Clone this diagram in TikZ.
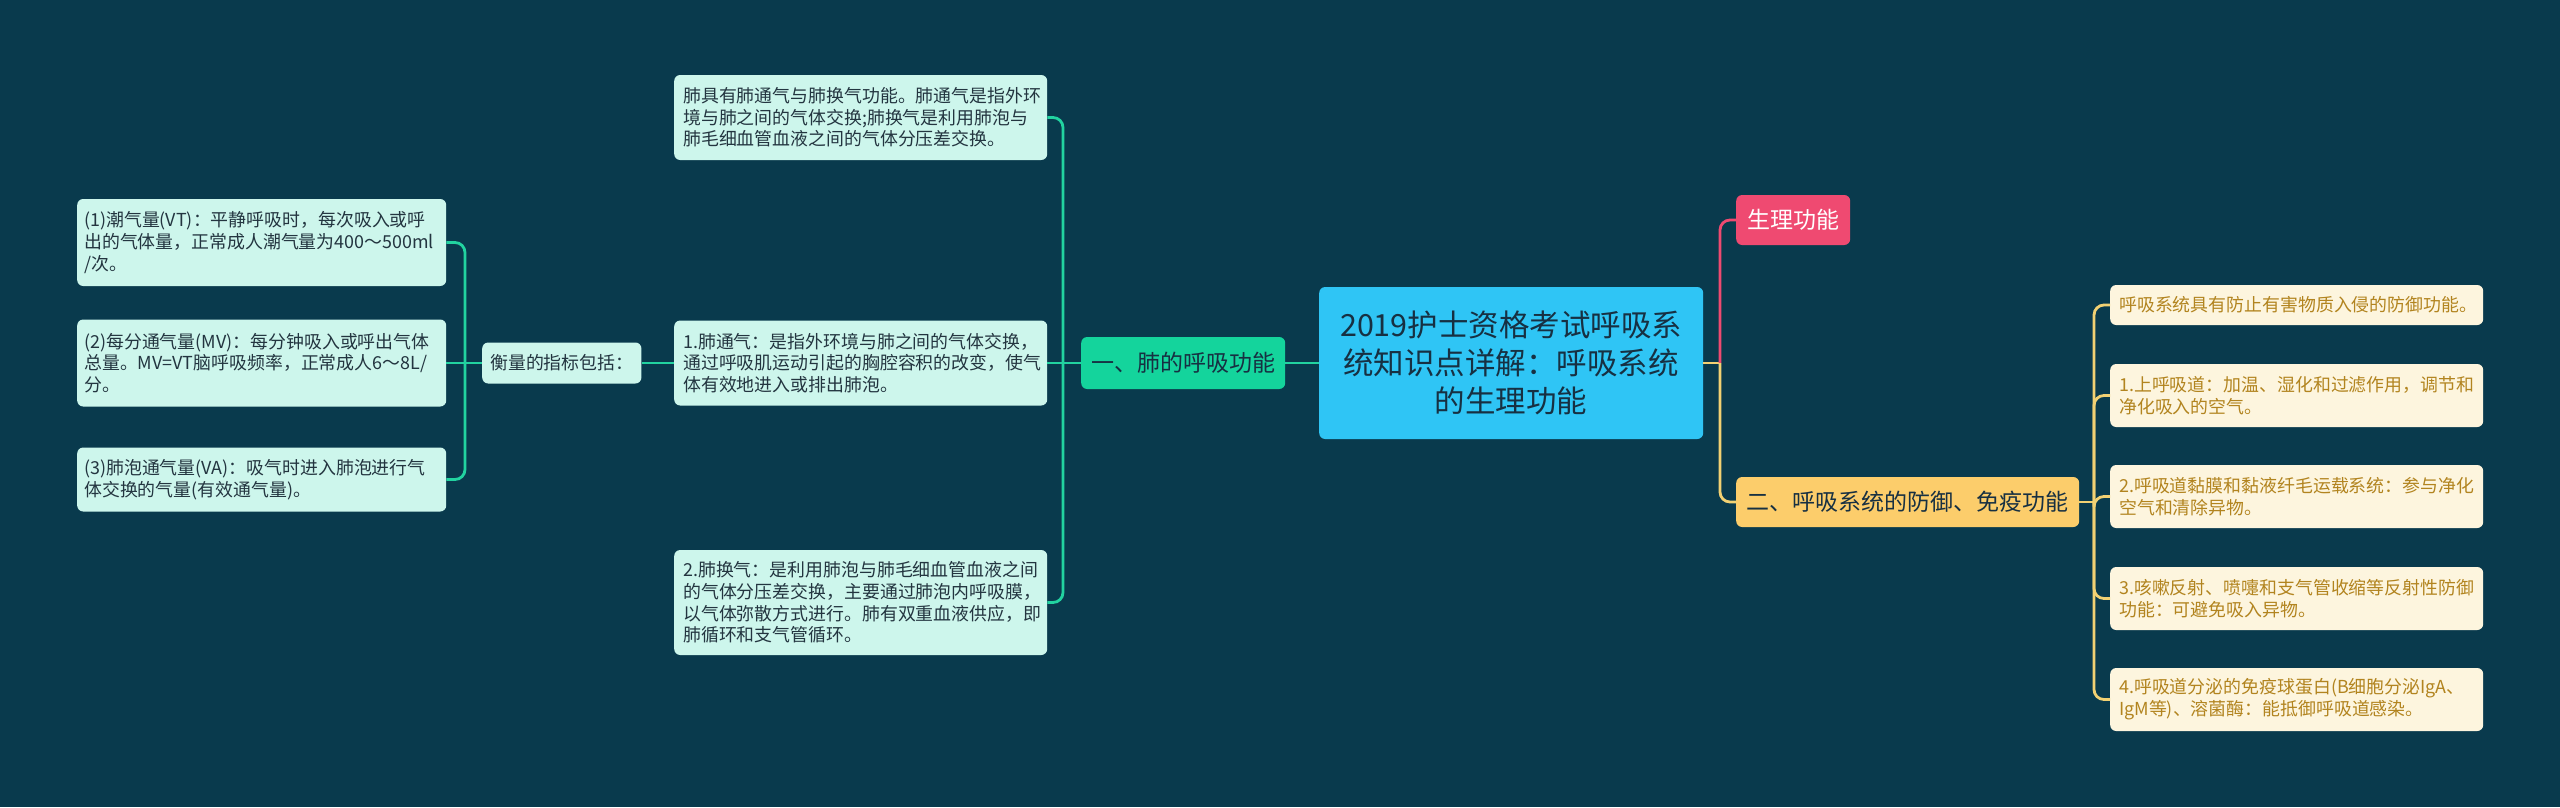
\documentclass[tikz,border=0pt]{standalone}
\usepackage{fontspec}
\setmainfont{Noto Sans CJK SC}
\definecolor{bg}{HTML}{093A4D}
\definecolor{gline}{HTML}{22D3A0}
\definecolor{gfill}{HTML}{14D49C}
\definecolor{mint}{HTML}{CDF6EC}
\definecolor{minttext}{HTML}{233540}
\definecolor{cfill}{HTML}{2FC5F5}
\definecolor{ctext}{HTML}{173042}
\definecolor{pinkc}{HTML}{EF4A71}
\definecolor{yfill}{HTML}{FCCD6B}
\definecolor{yline}{HTML}{F2D173}
\definecolor{cream}{HTML}{FDF5DE}
\definecolor{gold}{HTML}{B2841F}
\begin{document}
\begin{tikzpicture}[x=1pt,y=-1pt,
  box/.style={rounded corners=6pt, inner xsep=9pt, inner ysep=0pt, anchor=west, align=left},
  small/.style={font=\fontsize{17.9}{21.7}\selectfont},
  mintbox/.style={box, small, fill=mint, text=minttext},
  creambox/.style={box, small, fill=cream, text=gold, text width=355pt},
  lvl/.style={rounded corners=6pt, inner sep=0pt, anchor=west, align=center, font=\fontsize{23}{28}\selectfont, minimum height=50pt},
  conn/.style={line width=2.8pt, rounded corners=10pt},
  gl/.style={conn, draw=gline},
  pl/.style={conn, draw=pinkc},
  yl/.style={conn, draw=yline}]
\fill[bg] (0,0) rectangle (2560,807);
\useasboundingbox (0,0) rectangle (2560,807);

% leftmost
\node[mintbox, text width=355pt, inner xsep=7pt, minimum height=87pt] (a1) at (77,242.5)
  {(1)潮气量(VT)：平静呼吸时，每次吸入或呼\\出的气体量，正常成人潮气量为400～500ml\\/次。};
\node[mintbox, text width=355pt, inner xsep=7pt, minimum height=87pt] (a2) at (77,363)
  {(2)每分通气量(MV)：每分钟吸入或呼出气体\\总量。MV=VT脑呼吸频率，正常成人6～8L/\\分。};
\node[mintbox, text width=355pt, inner xsep=7pt, minimum height=64pt] (a3) at (77,479.5)
  {(3)肺泡通气量(VA)：吸气时进入肺泡进行气\\体交换的气量(有效通气量)。};
\node[mintbox, inner xsep=8pt, minimum height=41pt] (m0) at (482,363) {衡量的指标包括：};

% middle
\node[mintbox, text width=355pt, minimum height=85pt] (b0) at (674,117.5)
  {肺具有肺通气与肺换气功能。肺通气是指外环\\境与肺之间的气体交换;肺换气是利用肺泡与\\肺毛细血管血液之间的气体分压差交换。};
\node[mintbox, text width=355pt, minimum height=85pt] (b1) at (674,363)
  {1.肺通气：是指外环境与肺之间的气体交换，\\通过呼吸肌运动引起的胸腔容积的改变，使气\\体有效地进入或排出肺泡。};
\node[mintbox, text width=355pt, minimum height=105pt] (b2) at (674,602.5)
  {2.肺换气：是利用肺泡与肺毛细血管血液之间\\的气体分压差交换，主要通过肺泡内呼吸膜，\\以气体弥散方式进行。肺有双重血液供应，即\\肺循环和支气管循环。};

% level 1
\node[lvl, fill=gfill, text=ctext, minimum width=204pt, minimum height=52pt] (L1) at (1081,363) {一、肺的呼吸功能};
\node[rounded corners=6pt, inner sep=0pt, anchor=west, align=center, fill=cfill, text=ctext,
  font=\fontsize{30.5}{38}\selectfont, minimum width=384pt, minimum height=152pt] (C) at (1319,363)
  {2019护士资格考试呼吸系\\统知识点详解：呼吸系统\\的生理功能};
\node[lvl, fill=pinkc, text=white, minimum width=114pt] (P) at (1736,220) {生理功能};
\node[lvl, fill=yfill, text=ctext, minimum width=343pt] (Y) at (1736,502) {二、呼吸系统的防御、免疫功能};

% right
\node[creambox, minimum height=40pt] (r0) at (2110,305) {呼吸系统具有防止有害物质入侵的防御功能。};
\node[creambox, minimum height=63pt] (r1) at (2110,395.5) {1.上呼吸道：加温、湿化和过滤作用，调节和\\净化吸入的空气。};
\node[creambox, minimum height=63pt] (r2) at (2110,496.5) {2.呼吸道黏膜和黏液纤毛运载系统：参与净化\\空气和清除异物。};
\node[creambox, minimum height=63pt] (r3) at (2110,598.5) {3.咳嗽反射、喷嚏和支气管收缩等反射性防御\\功能：可避免吸入异物。};
\node[creambox, minimum height=63pt] (r4) at (2110,699.5) {4.呼吸道分泌的免疫球蛋白(B细胞分泌IgA、\\IgM等)、溶菌酶：能抵御呼吸道感染。};

% connectors
\coordinate (jL) at (465,363);
\coordinate (jM) at (1063,363);
\coordinate (jC) at (1720,363);
\coordinate (jY) at (2094,502);
\draw[gl] (m0.west) -- (jL);
\draw[gl] (jL) |- (a1.east);
\draw[gl] (jL) -- (a2.east);
\draw[gl] (jL) |- (a3.east);
\draw[gl] (b1.west) -- (m0.east);
\draw[gl] (L1.west) -- (jM);
\draw[gl] (jM) |- (b0.east);
\draw[gl] (jM) -- (b1.east);
\draw[gl] (jM) |- (b2.east);
\draw[gl] (C.west) -- (L1.east);
\draw[yl] (C.east) -- (jC);
\draw[pl] (jC) |- (P.west);
\draw[yl] (jC) |- (Y.west);
\draw[yl] (Y.east) -- (jY);
\draw[yl] (jY) |- (r0.west);
\draw[yl] (jY) |- (r1.west);
\draw[yl] (jY) |- (r2.west);
\draw[yl] (jY) |- (r3.west);
\draw[yl] (jY) |- (r4.west);
\end{tikzpicture}
\end{document}
